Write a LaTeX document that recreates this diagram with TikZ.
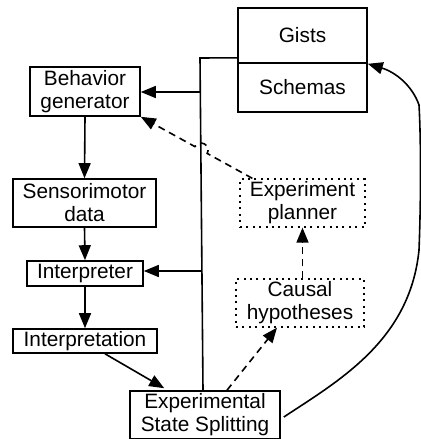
\documentclass[tikz,border=0pt]{standalone}
\usepackage{fontspec}
\setmainfont{Liberation Sans}
\usetikzlibrary{arrows.meta,calc}

\tikzset{
  box/.style={draw, line width=0.8pt, rectangle, inner sep=0pt, align=center,
              font=\fontsize{10.4}{11.5}\selectfont},
  planbox/.style={box, line width=0.65pt, dash pattern=on 1pt off 2.2pt},
  link/.style={line width=0.8pt},
  flow/.style={link, -{Triangle[length=7.5pt,width=6pt]}},
  guess/.style={flow, dash pattern=on 3.5pt off 2.5pt}
}

\begin{document}
\begin{tikzpicture}[x=0.5pt, y=-0.5pt]
  \useasboundingbox (0,0) rectangle (420,439);

  % main processing chain
  \node[box, minimum width=55pt,   minimum height=24.5pt] (bg)      at (85,91.5)  {Behavior\\generator};
  \node[box, minimum width=71.5pt, minimum height=24pt]   (sm)      at (84.5,203) {Sensorimotor\\data};
  \node[box, minimum width=58pt,   minimum height=12.5pt] (interp)  at (85,273.5) {Interpreter};
  \node[box, minimum width=72pt,   minimum height=12pt]   (interpn) at (85,341)   {Interpretation};
  \node[box, minimum width=75pt,   minimum height=24pt]   (ess)     at (205,415)  {Experimental\\State Splitting};

  % memory store
  \node[box, minimum width=64.5pt, minimum height=27.5pt] (gists)   at (302.5,35.5) {Gists};
  \node[box, minimum width=64.5pt, minimum height=24.5pt] (schemas) at (302.5,87.5) {Schemas};

  % tentative components
  \node[planbox, minimum width=62.5pt, minimum height=24pt] (ep) at (302.5,203) {Experiment\\planner};
  \node[planbox, minimum width=64pt,   minimum height=24pt] (ch) at (300,303)   {Causal\\hypotheses};

  % chain arrows
  \draw[flow] (bg.south) -- (sm.north);
  \draw[flow] (sm.south) -- (interp.north);
  \draw[flow] (interp.south) -- (interpn.north);
  \draw[flow] ($(interpn.south)+(20,0)$) -- ($(ess.north west)+(35,-2)$);

  % feedback bus from state splitting to the memory store
  \coordinate (busbot) at ($(ess.north)+(-2,0)$);
  \coordinate (bustop) at (200,58);
  \coordinate (gtap)   at ($(gists.south west)+(0,-6)$);
  \coordinate (b1) at (201,92);
  \coordinate (b2) at (202,271);
  \draw[link] (busbot) -- (bustop) -- (gtap);
  \draw[flow] (b1) -- (b1 -| bg.east);
  \draw[flow] (b2) -- (b2 -| interp.east);

  % hypotheses and planning
  \draw[guess] ($(ess.north)+(22,0)$) -- ($(ch.south)+(-23,0)$);
  \draw[guess] (ep.south |- ch.north) -- (ep.south);

  % planner back to the generator, hopping over the bus
  \coordinate (ps) at ($(ep.north west)+(13,0)$);
  \coordinate (hop) at ($(ps)!0.46!(bg.south east)$);
  \coordinate (h1) at ($(hop)!3.5pt!(ps)$);
  \draw[guess] (ps) -- (h1) arc[start angle=29, end angle=-151, radius=7] -- (bg.south east);

  % update of the store
  \draw[flow] ($(ess.east)+(3,2)$) .. controls (340,380) and (410,340) .. (419,250)
              .. controls (421,200) and (421,140) .. (419,105)
              .. controls (412,85) and (395,72) .. (gists.south east);
\end{tikzpicture}
\end{document}
